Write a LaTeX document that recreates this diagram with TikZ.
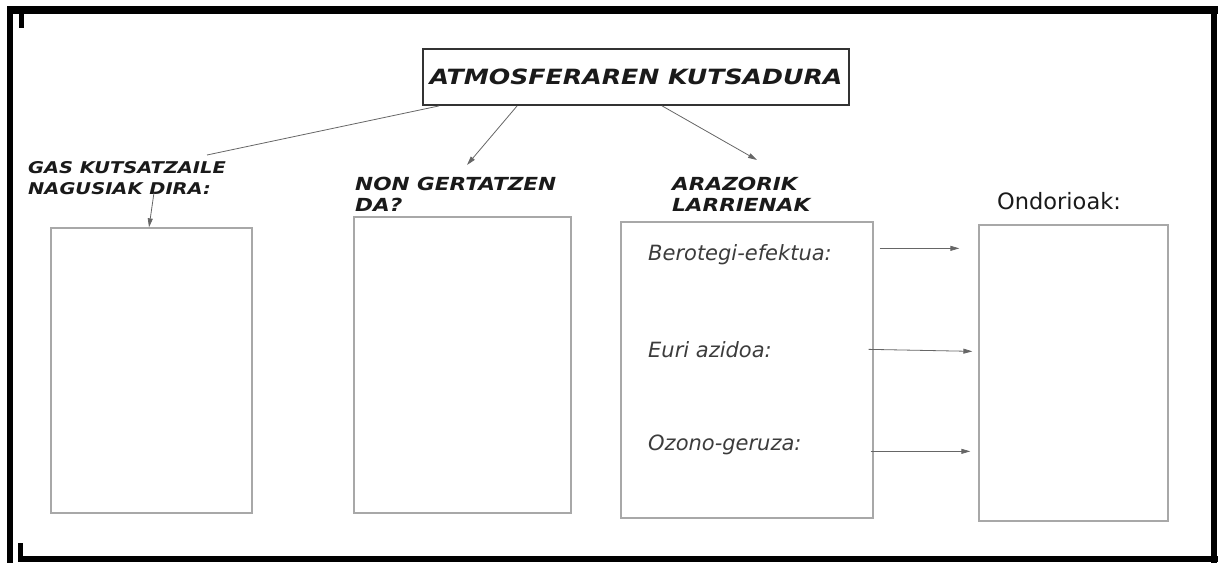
\documentclass[tikz,border=0pt]{standalone}
\usepackage{fontspec}
\newfontfamily\comicbold[FakeStretch=1.2]{DejaVu Sans}
\newfontfamily\comicplain{DejaVu Sans}
\usetikzlibrary{arrows.meta,calc}
\definecolor{inkc}{HTML}{1A1A1A}
\definecolor{boxc}{HTML}{A8A8A8}
\definecolor{linec}{HTML}{666666}
\begin{document}
\begin{tikzpicture}[x=1pt,y=-1pt,
  frame/.style={draw=black},
  titlebox/.style={draw=black!80, line width=1.8pt, minimum width=426pt, minimum height=56pt, inner sep=0pt,
    font=\comicbold\bfseries\itshape\fontsize{21}{24}\selectfont, text=inkc},
  emptybox/.style={draw=boxc, line width=1.3pt, inner sep=0pt},
  heading/.style={font=\comicbold\bfseries\itshape\fontsize{18}{20.5}\selectfont, text=inkc, align=left, anchor=north west, inner sep=0pt},
  item/.style={font=\comicplain\itshape\fontsize{21}{24}\selectfont, text=inkc!85, anchor=base west, inner sep=0pt},
  conn/.style={draw=linec, line width=0.8pt},
  arr/.style={conn, -{Triangle[length=9pt,width=5pt]}}
]
\useasboundingbox (0,0) rectangle (1218,563);
% outer frame
\draw[frame, line width=8pt] (7,10) -- (1218,10);
\draw[frame, line width=6pt] (10,6) -- (10,563);
\draw[frame, line width=6pt] (1214,6) -- (1214,563);
\draw[frame, line width=6pt] (18,559) -- (1218,559);
\draw[frame, line width=5pt] (21,13) -- (21,28);
\draw[frame, line width=5pt] (20.5,543) -- (20.5,559);

% title
\node[titlebox] (title) at (636,77) {ATMOSFERAREN KUTSADURA};

% headings
\node[heading, font=\comicbold\bfseries\itshape\fontsize{16.2}{21}\selectfont] (gas) at (28,161) {GAS KUTSATZAILE\\NAGUSIAK DIRA:};
\node[heading] (non) at (355,177) {NON GERTATZEN\\DA?};
\node[heading] (arz) at (672,177) {ARAZORIK\\LARRIENAK};
\node[font=\comicplain\fontsize{22.5}{26}\selectfont, text=inkc, anchor=north west, inner sep=0pt] (ond) at (997,192) {Ondorioak:};

% boxes
\node[emptybox, minimum width=201pt, minimum height=285pt] (b1) at (151.5,370.5) {};
\node[emptybox, minimum width=217pt, minimum height=296pt] (b2) at (462.5,365) {};
\node[emptybox, minimum width=252pt, minimum height=296pt] (b3) at (747,370) {};
\node[emptybox, minimum width=189pt, minimum height=296pt] (b4) at (1073.5,373) {};

% items
\node[item] (i1) at (648,260) {Berotegi-efektua:};
\node[item] (i2) at (648,357) {Euri azidoa:};
\node[item] (i3) at (648,450) {Ozono-geruza:};

% connectors from title
\draw[conn] ([xshift=17pt]title.south west) -- ($(gas.north west)+(179,-6)$);
\draw[arr] ([xshift=95pt]title.south west) -- ($(non.north west)+(112,-12)$);
\draw[arr] ([xshift=240pt]title.south west) -- ($(arz.north west)+(85,-17)$);
\draw[arr] ($(gas.south west)+(126,-2)$) -- ([xshift=-2.5pt]b1.north);

% arrows to consequences
\draw[arr] ($(b3.north east)+(6,27)$) -- ($(b4.north west)+(-19,24)$);
\draw[arr] ($(b3.north east)+(-5,128)$) -- ($(b4.north west)+(-6,127)$);
\draw[arr] ($(b3.north east)+(-3,230)$) -- ($(b4.north west)+(-8,227)$);
\end{tikzpicture}
\end{document}
